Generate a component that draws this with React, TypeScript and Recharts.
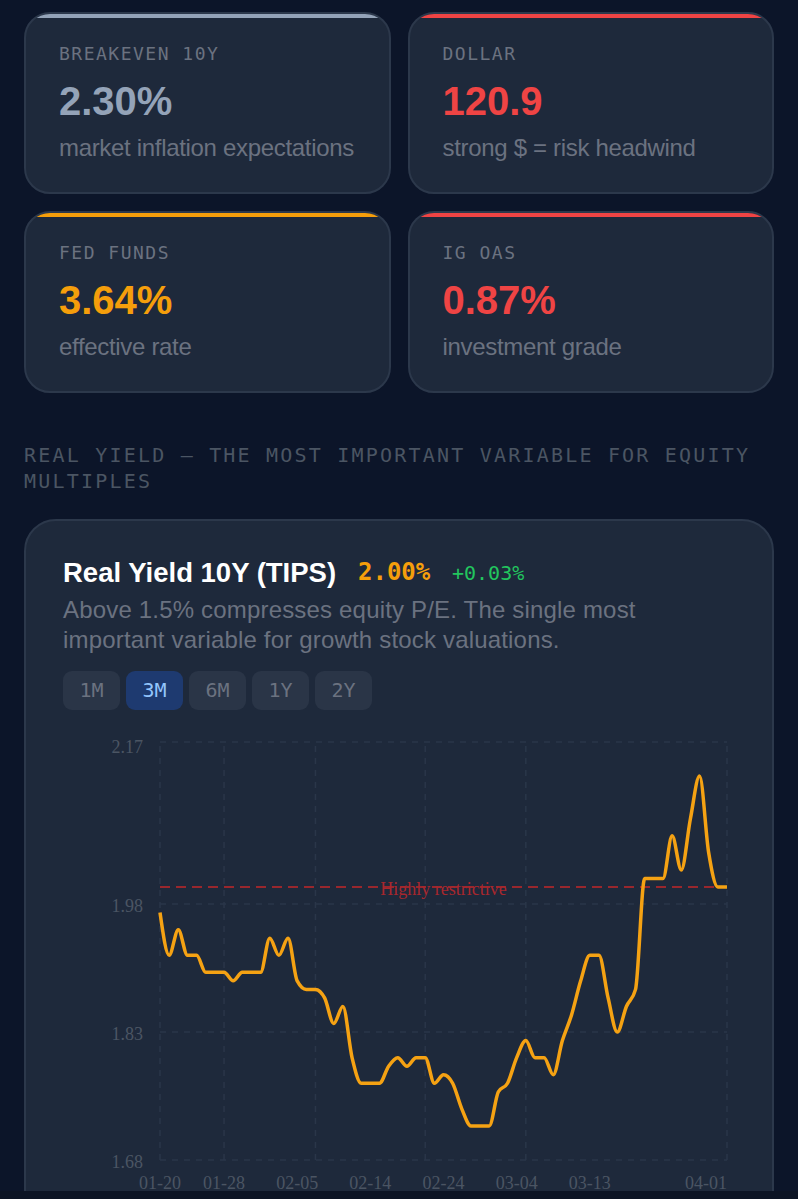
import { CartesianGrid, Line, LineChart, ReferenceLine, XAxis, YAxis } from 'recharts';

const dates = [
  '01-20', '01-21', '01-22', '01-23', '01-24', '01-25', '01-26', '01-28',
  '01-29', '01-30', '01-31', '02-01', '02-02', '02-03', '02-04', '02-05',
  '02-06', '02-07', '02-08', '02-09', '02-10', '02-11', '02-12', '02-14',
  '02-15', '02-16', '02-17', '02-18', '02-19', '02-20', '02-22', '02-24',
  '02-25', '02-26', '02-27', '02-28', '03-01', '03-02', '03-03', '03-04',
  '03-05', '03-06', '03-07', '03-08', '03-09', '03-10', '03-11', '03-13',
  '03-14', '03-15', '03-16', '03-17', '03-18', '03-19', '03-20', '03-21',
  '03-23', '03-24', '03-25', '03-27', '03-28', '03-30', '04-01',
];
const yields = [
  1.97, 1.92, 1.95, 1.92, 1.92, 1.9, 1.9, 1.9,
  1.89, 1.9, 1.9, 1.9, 1.94, 1.92, 1.94, 1.89,
  1.88, 1.88, 1.87, 1.84, 1.86, 1.8, 1.77, 1.77,
  1.77, 1.79, 1.8, 1.79, 1.8, 1.8, 1.77, 1.78,
  1.77, 1.74, 1.72, 1.72, 1.72, 1.76, 1.77, 1.8,
  1.82, 1.8, 1.8, 1.78, 1.82, 1.85, 1.89, 1.92,
  1.92, 1.87, 1.83, 1.86, 1.88, 2.01, 2.01, 2.01,
  2.06, 2.02, 2.08, 2.13, 2.04, 2, 2,
];
const xLabels = ['01-20', '01-28', '02-05', '02-14', '02-24', '03-04', '03-13', '04-01'];
const xGridDates = ['01-20', '01-28', '02-07', '02-20', '03-05', '04-01'];
const yTicks = [1.68, 1.83, 1.98, 2.17];
const ranges = ['1M', '3M', '6M', '1Y', '2Y'];

const chartData = dates.map((date, i) => ({ date, value: yields[i] }));

const SANS = '"Liberation Sans", Arial, sans-serif';
const MONO = '"DejaVu Sans Mono", monospace';
const SERIF = '"Liberation Serif", serif';
const GRID = '#2a3649';
const TICK = '#4b5563';

const stats = [
  { label: 'BREAKEVEN 10Y', value: '2.30%', note: 'market inflation expectations', color: '#94a3b8', left: 24, top: 12 },
  { label: 'DOLLAR', value: '120.9', note: 'strong $ = risk headwind', color: '#ef4444', left: 407.5, top: 12 },
  { label: 'FED FUNDS', value: '3.64%', note: 'effective rate', color: '#f59e0b', left: 24, top: 211 },
  { label: 'IG OAS', value: '0.87%', note: 'investment grade', color: '#ef4444', left: 407.5, top: 211 },
];

const StatCard = ({ label, value, note, color, left, top }: (typeof stats)[number]) => (
  <div
    style={{
      position: 'absolute', left, top, width: 366.5, height: 182, boxSizing: 'border-box',
      background: '#1e293b', border: '2px solid #2c384b', borderRadius: 26, overflow: 'hidden',
    }}
  >
    <div style={{ height: 4, background: color }} />
    <div style={{ position: 'absolute', left: 33, top: 29, font: `18px ${MONO}`, letterSpacing: 1.5, color: '#6b7280', whiteSpace: 'nowrap' }}>{label}</div>
    <div style={{ position: 'absolute', left: 33, top: 65, font: `bold 40px ${SANS}`, color, whiteSpace: 'nowrap' }}>{value}</div>
    <div style={{ position: 'absolute', left: 33, top: 120, font: `24px ${SANS}`, letterSpacing: -0.32, color: '#6b7280', whiteSpace: 'nowrap' }}>{note}</div>
  </div>
);

const XTick = ({ x, y, payload }: any) => (
  <text x={x} y={y} dy={21} textAnchor={payload.value === '04-01' ? 'end' : 'middle'} fill={TICK} fontFamily={SERIF} fontSize={18}>
    {payload.value}
  </text>
);

const YTick = ({ x, y, payload }: any) => (
  <text x={x - 9} y={y} dy={payload.value === 2.17 ? 11 : 8} textAnchor="end" fill={TICK} fontFamily={SERIF} fontSize={18}>
    {payload.value}
  </text>
);

const App = () => (
  <div style={{ position: 'absolute', left: 0, top: 0, width: 798, height: 1199, overflow: 'hidden', background: '#0c1529' }}>
    <style>{'body{margin:0;background:#0c1529}'}</style>
    {stats.map((s) => (
      <StatCard key={s.label} {...s} />
    ))}

    <div style={{ position: 'absolute', left: 24, top: 442, width: 740, font: `20px/26px ${MONO}`, letterSpacing: 2.2, color: '#4b5563' }}>
      REAL YIELD — THE MOST IMPORTANT VARIABLE FOR EQUITY MULTIPLES
    </div>

    <div style={{ position: 'absolute', left: 24, top: 519, width: 750, height: 720, boxSizing: 'border-box', background: '#1e293b', border: '2px solid #2c384b', borderRadius: 32 }} />

    <div style={{ position: 'absolute', left: 63, top: 557, font: `bold 27.5px ${SANS}`, color: '#ffffff', whiteSpace: 'nowrap' }}>Real Yield 10Y (TIPS)</div>
    <div style={{ position: 'absolute', left: 358, top: 558, font: `bold 24px ${MONO}`, color: '#f59e0b' }}>2.00%</div>
    <div style={{ position: 'absolute', left: 452, top: 561, font: `20px ${MONO}`, color: '#22c55e' }}>+0.03%</div>
    <div style={{ position: 'absolute', left: 63, top: 595, width: 620, font: `24px/30px ${SANS}`, letterSpacing: 0.18, color: '#6b7280' }}>
      Above 1.5% compresses equity P/E. The single most important variable for growth stock valuations.
    </div>

    {ranges.map((r, i) => (
      <div
        key={r}
        style={{
          position: 'absolute', left: 63 + i * 63, top: 671, width: 57, height: 39, borderRadius: 9,
          background: r === '3M' ? '#1e3a70' : '#2a3547', color: r === '3M' ? '#93c5fd' : '#6b7280',
          font: `20px/39px ${MONO}`, textAlign: 'center',
        }}
      >
        {r}
      </div>
    ))}

    <div style={{ position: 'absolute', left: 0, top: 720 }}>
      <LineChart width={798} height={479} data={chartData} margin={{ top: 22, right: 71, bottom: 0, left: 0 }}>
        <CartesianGrid vertical={false} stroke={GRID} strokeWidth={1.5} strokeDasharray="6 6" />
        <XAxis dataKey="date" ticks={xLabels} interval={0} height={39} tickLine={false} axisLine={false} tick={XTick} />
        <YAxis domain={[1.68, 2.17]} ticks={yTicks} interval={0} width={160} tickLine={false} axisLine={false} tick={YTick} />
        {xGridDates.map((d) => (
          <ReferenceLine key={d} x={d} stroke={GRID} strokeWidth={1.5} strokeDasharray="6 6" />
        ))}
        <ReferenceLine
          y={2}
          stroke="#dc2626"
          strokeOpacity={0.65}
          strokeWidth={2}
          strokeDasharray="10 6"
          label={{ value: 'Highly restrictive', position: 'center', dy: 2, fill: '#a8272d', fontFamily: SERIF, fontSize: 18 }}
        />
        <Line type="monotone" dataKey="value" stroke="#f5a213" strokeWidth={3.5} dot={false} isAnimationActive={false} />
      </LineChart>
    </div>

    <div style={{ position: 'absolute', left: 0, top: 1191, width: 798, height: 8, background: '#0c1424' }} />
  </div>
);

export default App;
